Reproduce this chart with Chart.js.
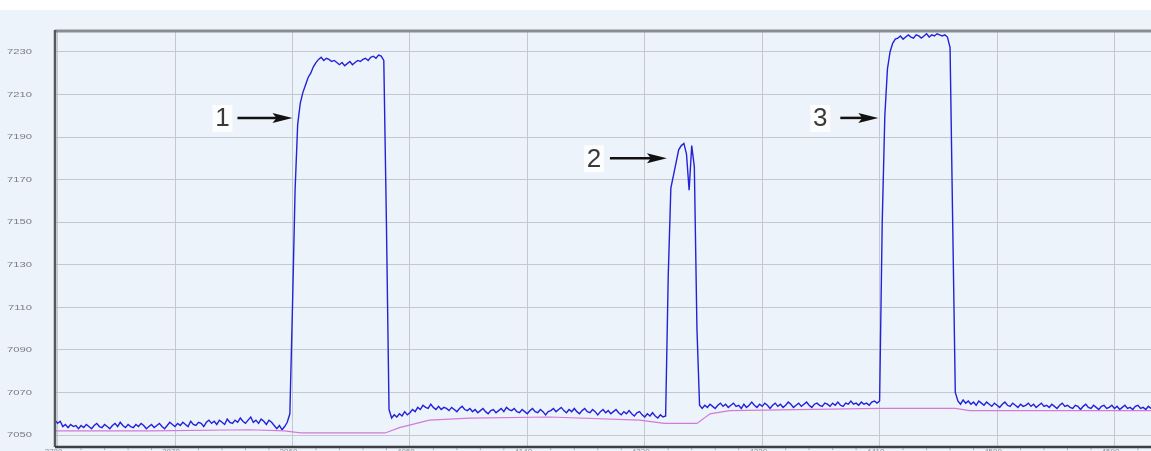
<!DOCTYPE html>
<html>
<head>
<meta charset="utf-8">
<script src="https://cdn.jsdelivr.net/npm/chart.js"></script>
<style>
  html, body { margin: 0; padding: 0; background: #ffffff; }
  canvas { display: block; }
</style>
</head>
<body>
<canvas id="c" width="1151" height="451" style="width:1151px;height:451px"></canvas>
<script>
// ---- Data ----
const xTicks = [3780, 3870, 3960, 4050, 4140, 4230, 4320, 4410, 4500, 4590];
const yTicks = [7050, 7070, 7090, 7110, 7130, 7150, 7170, 7190, 7210, 7230];
const xMin = 3778, xMax = 4618;
const yMin = 7044.4, yMax = 7240.3;
const sampleStart = 3778;   // x of sample index 0
const sampleStep = 2;       // x distance between samples

// blue trace, in segments: starting sample index + values
const blueSegA = { start: 0, values: [
  7057, 7055.5, 7056.5, 7054, 7055, 7053.5, 7055, 7054, 7054.5, 7053,
  7054.5, 7053.5, 7055, 7054, 7053, 7054.5, 7055.5, 7054, 7053.5, 7055,
  7054, 7053, 7054.5, 7055.5, 7054, 7056, 7054.5, 7053.5, 7055, 7054,
  7053.5, 7055, 7054, 7055.5, 7054.5, 7053, 7054, 7055, 7053.5, 7054.5,
  7055.5, 7054, 7053, 7054.5, 7056, 7055, 7054, 7055.5, 7054.5, 7056,
  7055, 7054, 7056.5, 7055, 7054.5, 7056, 7055.5, 7054, 7056, 7057,
  7055.5, 7056.5, 7055, 7057, 7056, 7055, 7057.5, 7056, 7055.5, 7057,
  7056, 7058, 7056.5, 7055.5, 7057, 7058.5, 7056, 7057, 7055.5, 7057.5,
  7056.5, 7055, 7057, 7056, 7054.5, 7053, 7054.5, 7052.5, 7054, 7056
]};
const bluePeak1 = { start: 90, values: [
  7060, 7110, 7165, 7196, 7206, 7211, 7214.5, 7218, 7220, 7223,
  7225, 7226.5, 7227.5, 7226, 7227, 7226.5, 7225.5, 7226, 7225, 7224,
  7225, 7223.5, 7224.5, 7225.5, 7224, 7225, 7226, 7225.5, 7226.5, 7227,
  7226, 7227.5, 7228, 7227, 7228.5, 7228, 7226, 7150, 7062, 7058
]};
const blueSegB = { start: 130, values: [
  7059.5, 7058.5, 7060, 7059, 7061, 7059.5, 7060.5, 7062, 7061, 7063,
  7062, 7064, 7063, 7062.5, 7064.5, 7063, 7062, 7063.5, 7062, 7063,
  7062.5, 7061.5, 7063, 7062, 7061, 7062.5, 7063.5, 7062, 7061.5, 7062.5,
  7061, 7062, 7060.5, 7061.5, 7062.5, 7061, 7060, 7061.5, 7062, 7060.5,
  7061.5, 7062.5, 7061, 7063, 7062, 7061.5, 7062.5, 7061, 7060.5, 7062,
  7061, 7060, 7061.5, 7062.5, 7061, 7060.5, 7062, 7061, 7059.5, 7061,
  7061.5, 7062.5, 7061, 7062, 7063, 7061.5, 7060.5, 7062, 7061, 7062.5,
  7061, 7060, 7061.5, 7062.5, 7061, 7060.5, 7062, 7061, 7059.5, 7061,
  7062, 7060.5, 7061.5, 7060, 7061, 7062, 7060.5, 7059.5, 7061, 7060,
  7061.5, 7060, 7059, 7060.5, 7061, 7059.5, 7058.5, 7060, 7059, 7060.5,
  7059, 7058, 7059.5, 7058.5, 7059
]};
const bluePeak2 = { start: 235, values: [
  7125, 7166, 7172, 7178, 7184, 7186, 7187, 7182, 7165, 7186, 7176, 7100
]};
const blueSegC = { start: 247, values: [
  7064, 7062.5, 7064,
  7063, 7064.5, 7063.5, 7062.5, 7064, 7065, 7063.5, 7064.5, 7063, 7064,
  7065, 7063.5, 7064, 7062.5, 7064.5, 7063, 7064, 7065.5, 7064, 7063,
  7064.5, 7063.5, 7065, 7064, 7062.5, 7064, 7065, 7063.5, 7064.5, 7063,
  7064, 7065.5, 7064.5, 7063, 7064, 7065, 7063.5, 7064.5, 7065.5, 7064,
  7063, 7064.5, 7065, 7064, 7063.5, 7065, 7064.5, 7063.5, 7065, 7064,
  7065.5, 7064, 7063.5, 7065, 7064.5, 7066, 7064.5, 7065, 7064, 7065.5,
  7064.5, 7065, 7064, 7065.5, 7066, 7065, 7066
]};
const bluePeak3 = { start: 317, values: [
  7150, 7200, 7222, 7230, 7234, 7236,
  7236.5, 7237.5, 7236, 7237, 7238, 7237, 7236.5, 7238, 7237.5, 7236.5,
  7237.5, 7238.5, 7237, 7238, 7237.5, 7238.5, 7238,
  7237.5, 7238, 7237, 7232, 7150, 7070
]};
const blueSegD = { start: 346, values: [
  7066, 7064.5, 7066.5, 7065,
  7066, 7064.5, 7065.5, 7064, 7066, 7065, 7064, 7065.5, 7064.5, 7063.5,
  7065, 7064, 7063, 7064.5, 7065.5, 7064, 7063.5, 7065, 7064, 7063,
  7064.5, 7063.5, 7064, 7065, 7063.5, 7064.5, 7063, 7064, 7065, 7063.5,
  7064, 7063, 7064.5, 7063.5, 7062.5, 7064, 7065, 7063.5, 7064, 7063,
  7062.5, 7064, 7063.5, 7062, 7063.5, 7064.5, 7063, 7062.5, 7064, 7063,
  7062, 7063.5, 7064, 7062.5, 7063, 7064, 7062.5, 7063.5, 7062, 7063,
  7064, 7062.5, 7063, 7062, 7063.5, 7064, 7062.5, 7063, 7062, 7063.5, 7062.5
]};
const blueSegments = [blueSegA, bluePeak1, blueSegB, bluePeak2, blueSegC, bluePeak3, blueSegD];

// pink reference trace
const pinkX = [3778, 3851, 3927, 3954, 3966, 4031, 4042, 4065, 4096, 4157, 4226, 4245, 4270, 4280, 4295, 4410, 4468, 4479, 4618];
const pinkY = [7052, 7052, 7052.5, 7052, 7051, 7051, 7053.5, 7057, 7058, 7058.5, 7057, 7055.5, 7055.5, 7060, 7061.5, 7062.5, 7062.5, 7061.5, 7061.5];

// callouts: label, arrow tip (data coords)
const calloutLabels = ['1', '2', '3'];
const calloutTipX = [3960, 4247, 4409];
const calloutTipY = [7199, 7180, 7199];
const calloutLen = [55, 57, 38];
const calloutGap = [15, 16, 20];

// ---- build ----
const blueData = [];
blueSegments.forEach(seg => {
  seg.values.forEach((v, k) => {
    blueData.push({ x: sampleStart + (seg.start + k) * sampleStep, y: v });
  });
});
const pinkData = pinkX.map((x, i) => ({ x: x, y: pinkY[i] }));

const decor = {
  id: 'decor',
  beforeDraw(chart) {
    const { ctx, width, height } = chart;
    ctx.save();
    ctx.fillStyle = '#ffffff';
    ctx.fillRect(0, 0, width, height);
    ctx.fillStyle = '#edf3fb';
    ctx.fillRect(0, 10, width, height - 10);
    ctx.restore();
  },
  afterDatasetsDraw(chart) {
    const { ctx, chartArea: a, scales } = chart;
    const xs = scales.x, ys = scales.y;
    ctx.save();
    // top border
    ctx.strokeStyle = '#8a8d92';
    ctx.lineWidth = 3;
    ctx.beginPath(); ctx.moveTo(a.left, a.top + 1); ctx.lineTo(a.right, a.top + 1); ctx.stroke();
    // left border
    ctx.strokeStyle = '#55585d';
    ctx.lineWidth = 2.5;
    ctx.beginPath(); ctx.moveTo(a.left, a.top); ctx.lineTo(a.left, a.bottom); ctx.stroke();
    // bottom border
    ctx.strokeStyle = '#3c3f44';
    ctx.lineWidth = 2.5;
    ctx.beginPath(); ctx.moveTo(a.left, a.bottom); ctx.lineTo(a.right, a.bottom); ctx.stroke();
    // y tick labels (horizontally stretched like the source)
    ctx.fillStyle = '#777b82';
    ctx.font = '8px "Liberation Sans", Arial, sans-serif';
    ctx.textAlign = 'right';
    ctx.textBaseline = 'middle';
    yTicks.forEach(v => {
      const py = ys.getPixelForValue(v);
      ctx.save();
      ctx.translate(32, py);
      ctx.scale(1.4, 1);
      ctx.fillText(String(v), 0, 0);
      ctx.restore();
    });
    // minor ticks on bottom axis + x labels
    ctx.strokeStyle = '#9aa0a8';
    ctx.lineWidth = 1;
    ctx.fillStyle = '#8a8e95';
    ctx.font = '8px "Liberation Sans", Arial, sans-serif';
    ctx.textAlign = 'center';
    ctx.textBaseline = 'top';
    for (let i = 0; i < xTicks.length; i++) {
      for (let m = 1; m < 5; m++) {
        const px = xs.getPixelForValue(xTicks[i] + m * 18);
        if (px > a.right) continue;
        ctx.beginPath(); ctx.moveTo(px, a.bottom + 1); ctx.lineTo(px, a.bottom + 3); ctx.stroke();
      }
      const pm = xs.getPixelForValue(xTicks[i]);
      ctx.fillText(String(xTicks[i]), pm - 4, a.bottom + 1);
    }
    // callouts
    calloutLabels.forEach((lab, i) => {
      const tx = xs.getPixelForValue(calloutTipX[i]);
      const ty = ys.getPixelForValue(calloutTipY[i]);
      const sx = tx - calloutLen[i];
      ctx.strokeStyle = '#111';
      ctx.fillStyle = '#111';
      ctx.lineWidth = 2.5;
      ctx.beginPath(); ctx.moveTo(sx, ty); ctx.lineTo(tx - 14, ty); ctx.stroke();
      ctx.beginPath();
      ctx.moveTo(tx, ty);
      ctx.lineTo(tx - 20, ty - 5);
      ctx.lineTo(tx - 16, ty);
      ctx.lineTo(tx - 20, ty + 5);
      ctx.closePath(); ctx.fill();
      const cx = sx - calloutGap[i];
      ctx.fillStyle = 'rgba(255,255,255,0.8)';
      ctx.fillRect(cx - 10, ty - 13, 20, 27);
      ctx.fillStyle = '#3a3a3a';
      ctx.font = '26px "Liberation Sans", Arial, sans-serif';
      ctx.textAlign = 'center';
      ctx.textBaseline = 'middle';
      ctx.fillText(lab, cx, ty + 1);
    });
    ctx.restore();
  }
};

new Chart(document.getElementById('c'), {
  type: 'line',
  data: {
    datasets: [
      { label: 'ref', data: pinkData, borderColor: '#d27ad8', borderWidth: 1.2, pointRadius: 0, tension: 0, fill: false },
      { label: 'signal', data: blueData, borderColor: '#2222d8', borderWidth: 1.4, pointRadius: 0, tension: 0, fill: false }
    ]
  },
  options: {
    responsive: false,
    animation: false,
    devicePixelRatio: 1,
    layout: { autoPadding: false, padding: { left: 7, top: 30, right: 0, bottom: 4 } },
    plugins: { legend: { display: false }, tooltip: { enabled: false } },
    scales: {
      x: {
        type: 'linear', min: xMin, max: xMax,
        afterBuildTicks: s => { s.ticks = xTicks.map(v => ({ value: v })); },
        afterFit: s => { s.height = 0; },
        grid: { color: '#c3c8d0', lineWidth: 1, drawTicks: false },
        border: { display: false },
        ticks: { display: false }
      },
      y: {
        type: 'linear', min: yMin, max: yMax,
        afterBuildTicks: s => { s.ticks = yTicks.map(v => ({ value: v })); },
        afterFit: s => { s.width = 48; },
        grid: { color: '#c3c8d0', lineWidth: 1, drawTicks: false },
        border: { display: false },
        ticks: { display: false, padding: 0 }
      }
    }
  },
  plugins: [decor]
});
</script>
</body>
</html>
